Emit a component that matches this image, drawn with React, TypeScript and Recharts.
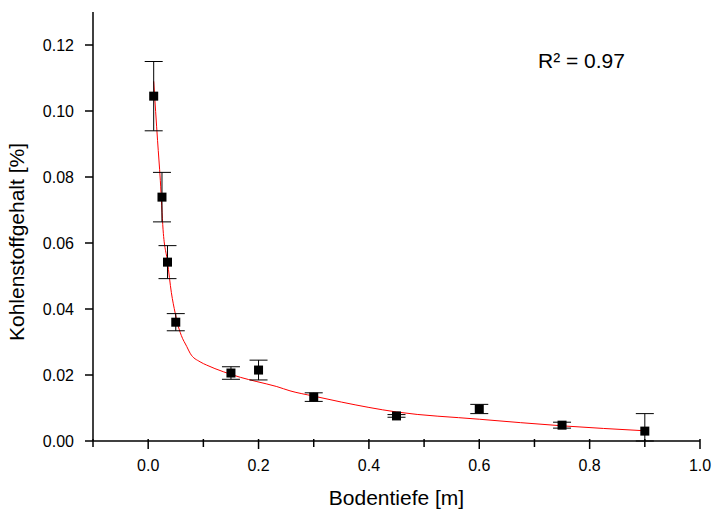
import {
  ComposedChart,
  ErrorBar,
  Line,
  Scatter,
  XAxis,
  YAxis,
} from "recharts";

const depths = [0.01, 0.025, 0.035, 0.05, 0.15, 0.2, 0.3, 0.45, 0.6, 0.75, 0.9];
const carbon = [0.1045, 0.0739, 0.0542, 0.036, 0.0206, 0.0215, 0.0133, 0.0076, 0.0097, 0.0048, 0.003];
// [below, above]; the last bar's lower half is cut off at the axis
const errLow = [0.0105, 0.0075, 0.005, 0.0026, 0.0019, 0.003, 0.0013, 0.0004, 0.0014, 0.0009, 0.003];
const errHigh = [0.0105, 0.0075, 0.005, 0.0026, 0.0019, 0.003, 0.0013, 0.0004, 0.0014, 0.0009, 0.0053];

// fitted curve
const fitX = [0.01, 0.017, 0.022, 0.027, 0.035, 0.042, 0.049, 0.053, 0.06, 0.07, 0.076, 0.094, 0.106, 0.136, 0.167, 0.197, 0.233, 0.257, 0.3, 0.35, 0.45, 0.6, 0.75, 0.9];
const fitY = [0.109, 0.091, 0.079, 0.064, 0.0543, 0.045, 0.0387, 0.0357, 0.032, 0.0286, 0.0266, 0.024, 0.023, 0.021, 0.0193, 0.018, 0.0165, 0.0152, 0.0136, 0.0118, 0.0088, 0.0066, 0.0046, 0.0031];

const xTicks = [-0.1, 0, 0.1, 0.2, 0.3, 0.4, 0.5, 0.6, 0.7, 0.8, 0.9, 1.0];
const yTicks = [0, 0.02, 0.04, 0.06, 0.08, 0.1, 0.12];

const points = depths.map((x, i) => ({ x, y: carbon[i], err: [errLow[i], errHigh[i]] }));
const fit = fitX.map((x, i) => ({ x, y: fitY[i] }));

const FONT = "Liberation Sans, Arial, sans-serif";
const TICK_GAP = 9;

function isMajor(v: number) {
  return Math.abs(Math.round(v * 10) % 2) === 0;
}

function BottomTick(props: any) {
  const { x, y, payload } = props;
  const base = y - TICK_GAP;
  const major = isMajor(payload.value);
  return (
    <g>
      <line x1={x} x2={x} y1={base - 2} y2={base + (major ? 8 : 6)} stroke="#000" strokeWidth={1.5} />
      {major && (
        <text x={x} y={base + 30} textAnchor="middle" fontSize={16} fontFamily={FONT} fill="#000">
          {payload.value.toFixed(1)}
        </text>
      )}
    </g>
  );
}

function TopTick(props: any) {
  const { x, y } = props;
  const base = y + TICK_GAP;
  return <line x1={x} x2={x} y1={base} y2={base + 3} stroke="#000" strokeWidth={1.5} />;
}

function LeftTick(props: any) {
  const { x, y, payload } = props;
  const base = x + TICK_GAP;
  return (
    <g>
      <line x1={base - 8} x2={base} y1={y} y2={y} stroke="#000" strokeWidth={1.5} />
      <text x={base - 19} y={y + 6} textAnchor="end" fontSize={16} fontFamily={FONT} fill="#000">
        {payload.value.toFixed(2)}
      </text>
    </g>
  );
}

function RightTick(props: any) {
  const { x, y } = props;
  const base = x - TICK_GAP;
  return <line x1={base - 3} x2={base} y1={y} y2={y} stroke="#000" strokeWidth={1.5} />;
}

function SquareDot(props: any) {
  const { cx, cy } = props;
  return <rect x={cx - 4.5} y={cy - 4.5} width={9} height={9} fill="#000" />;
}

export default function App() {
  return (
    <div style={{ position: "absolute", left: 0, top: 0, width: 713, height: 510, background: "#fff" }}>
      <ComposedChart
        width={713}
        height={510}
        margin={{ top: 12, right: 13, bottom: 0, left: 0 }}
      >
        <XAxis
          xAxisId="b"
          dataKey="x"
          type="number"
          domain={[-0.1, 1.0]}
          allowDataOverflow
          ticks={xTicks}
          interval={0}
          height={69}
          tickSize={7}
          tickMargin={2}
          tickLine={false}
          axisLine={{ stroke: "#000", strokeWidth: 1.5 }}
          tick={<BottomTick />}
        />
        <XAxis
          xAxisId="t"
          orientation="top"
          dataKey="x"
          type="number"
          domain={[-0.1, 1.0]}
          allowDataOverflow
          ticks={xTicks}
          interval={0}
          height={0}
          tickSize={7}
          tickMargin={2}
          tickLine={false}
          axisLine={{ stroke: "#000", strokeWidth: 1.5 }}
          tick={<TopTick />}
        />
        <YAxis
          yAxisId="l"
          type="number"
          domain={[0, 0.13]}
          allowDataOverflow
          ticks={yTicks}
          interval={0}
          width={93}
          tickSize={7}
          tickMargin={2}
          tickLine={false}
          axisLine={{ stroke: "#000", strokeWidth: 1.5 }}
          tick={<LeftTick />}
        />
        <YAxis
          yAxisId="r"
          orientation="right"
          type="number"
          domain={[0, 0.13]}
          allowDataOverflow
          ticks={yTicks}
          interval={0}
          width={0}
          tickSize={7}
          tickMargin={2}
          tickLine={false}
          axisLine={{ stroke: "#000", strokeWidth: 1.5 }}
          tick={<RightTick />}
        />
        <Line
          xAxisId="b"
          yAxisId="l"
          data={fit}
          dataKey="y"
          type="monotone"
          stroke="#ff0000"
          strokeWidth={1}
          dot={false}
          activeDot={false}
          isAnimationActive={false}
        />
        <Scatter
          xAxisId="b"
          yAxisId="l"
          data={points}
          dataKey="y"
          shape={<SquareDot />}
          isAnimationActive={false}
        >
          <ErrorBar dataKey="err" direction="y" width={9} stroke="#000" strokeWidth={1} isAnimationActive={false} />
        </Scatter>
        <text x={396.5} y={505} textAnchor="middle" fontSize={21} fontFamily={FONT} fill="#000">
          Bodentiefe [m]
        </text>
        <text
          x={24}
          y={242}
          transform="rotate(-90, 24, 242)"
          textAnchor="middle"
          fontSize={21}
          fontFamily={FONT}
          fill="#000"
        >
          Kohlenstoffgehalt [%]
        </text>
        <text x={538} y={68} fontSize={21} fontFamily={FONT} fill="#000">
          R² = 0.97
        </text>
      </ComposedChart>
    </div>
  );
}
